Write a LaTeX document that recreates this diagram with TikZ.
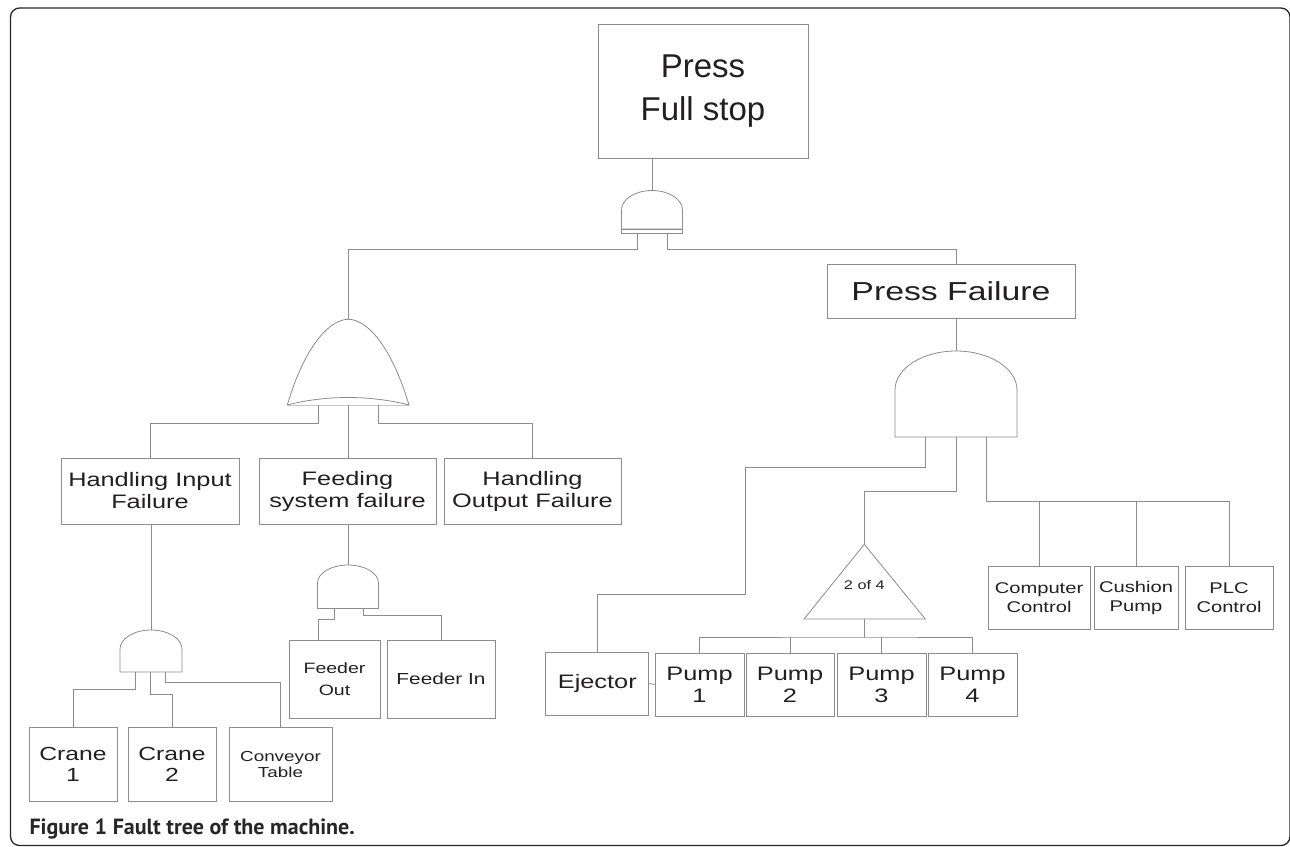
\documentclass[tikz,border=0pt]{standalone}
\usepackage{fontspec}
\setmainfont{Liberation Sans}
\newfontfamily\boxfont[FakeStretch=1.3]{Liberation Sans}
\newfontfamily\capfont{PT Sans}
\usepackage{tikz}

\definecolor{wirecol}{gray}{0.55}
\definecolor{inkcol}{HTML}{231F20}

\tikzset{
  wire/.style={draw=wirecol, line width=0.8pt},
  gate/.style={draw=wirecol, line width=0.8pt, fill=white},
  blk/.style={draw=wirecol, line width=0.8pt, text=inkcol, align=center, inner sep=0pt},
  fs/.style 2 args={font=\boxfont\fontsize{#1}{#2}\selectfont},
}

% cx, top, half width, start of curve, bottom
\newcommand{\andgate}[5]{%
  \draw[gate] ({#1-#3},#5) -- ({#1-#3},#4)
    .. controls ({#1-#3},{#4-0.552*(#4-#2)}) and ({#1-0.552*#3},#2) .. (#1,#2)
    .. controls ({#1+0.552*#3},#2) and ({#1+#3},{#4-0.552*(#4-#2)}) .. ({#1+#3},#4)
    -- ({#1+#3},#5) -- cycle;}

\begin{document}
\begin{tikzpicture}[x=1pt,y=-1pt]
	\useasboundingbox (0,0) rectangle (1290,846);
	\draw[line width=1.3pt, draw=black!85, rounded corners=9pt] (10.5,8) rectangle (1290,845.5);

	% events
	\node[blk, font=\fontsize{33}{43}\selectfont, minimum width=210pt, minimum height=134pt] (press) at (703,91) {Press\\Full stop};
	\node[blk, fs={26}{30}, minimum width=248pt, minimum height=54pt] (pf) at (951,291) {Press Failure};

	\node[blk, fs={19.5}{22}, minimum width=178pt, minimum height=66pt] (hif) at (150,491) {Handling Input\\Failure};
	\node[blk, fs={19.5}{22}, minimum width=177pt, minimum height=66pt] (fsf) at (347.5,491) {Feeding\\system failure};
	\node[blk, fs={19.5}{22}, minimum width=177pt, minimum height=66pt] (hof) at (532.5,491) {Handling\\Output Failure};

	\node[blk, fs={15}{22}, minimum width=91pt, minimum height=78pt] (fo) at (334.5,679) {Feeder\\Out};
	\node[blk, fs={16}{20}, minimum width=108pt, minimum height=78pt] (fi) at (441,679) {Feeder In};

	\node[blk, fs={19}{21}, minimum width=88pt, minimum height=74pt] (c1) at (73,764) {Crane\\1};
	\node[blk, fs={19}{21}, minimum width=88pt, minimum height=74pt] (c2) at (172,764) {Crane\\2};
	\node[blk, fs={14.5}{16}, minimum width=103pt, minimum height=74pt] (ct) at (280.5,764) {Conveyor\\Table};

	\node[blk, fs={19.5}{22}, minimum width=103pt, minimum height=63pt] (ej) at (597.3,683.5) {Ejector};
	\node[blk, fs={19.5}{22}, minimum width=89pt, minimum height=63pt] (p1) at (699.5,684.5) {Pump\\1};
	\node[blk, fs={19.5}{22}, minimum width=88pt, minimum height=63pt] (p2) at (790,684.5) {Pump\\2};
	\node[blk, fs={19.5}{22}, minimum width=89pt, minimum height=63pt] (p3) at (881.5,684.5) {Pump\\3};
	\node[blk, fs={19.5}{22}, minimum width=89pt, minimum height=63pt] (p4) at (972.5,684.5) {Pump\\4};

	\node[blk, fs={15.5}{19}, minimum width=102pt, minimum height=63pt] (cc) at (1039,597.5) {Computer\\Control};
	\node[blk, fs={15.5}{19}, minimum width=84pt, minimum height=63pt] (cp) at (1136,597.5) {Cushion\\Pump};
	\node[blk, fs={15.5}{19}, minimum width=88pt, minimum height=63pt] (plc) at (1229,597.5) {PLC\\Control};

	% gates
	\andgate{652}{190.5}{30.5}{210}{229}
	\draw[gate] (621.5,229) rectangle (682.5,233);
	\coordinate (g0in) at (652,190.5);
	\coordinate (g0l) at (637,233);
	\coordinate (g0r) at (667,233);

	\draw[gate] (287.3,405) .. controls (305,345) and (330,319.3) .. (348.3,319.3)
	  .. controls (366.6,319.3) and (391,345) .. (409,405)
	  .. controls (370,395) and (326,395) .. cycle;
	\draw[draw=wirecol!50, line width=0.8pt] (287.3,405) -- (409,405);
	\coordinate (ortop) at (348.3,319.3);
	\coordinate (orl) at (318.3,405);
	\coordinate (orm) at (348.3,405);
	\coordinate (orr) at (378.3,405);

	\andgate{151}{630}{31}{649}{672}
	\coordinate (g1in) at (151,630);
	\coordinate (g1l) at (135.7,672);
	\coordinate (g1m) at (150.7,672);
	\coordinate (g1r) at (165.7,672);

	\andgate{348}{565}{30.5}{583}{608.5}
	\coordinate (g2in) at (348,565);
	\coordinate (g2l) at (334,608.5);
	\coordinate (g2r) at (363,608.5);
	\coordinate (foin) at (318,640);

	\andgate{956}{351}{61}{390}{437}
	\coordinate (g3in) at (956,351);
	\coordinate (g3l) at (925.7,437);
	\coordinate (g3m) at (956,437);
	\coordinate (g3r) at (986,437);
	\coordinate (pfin) at (956,264);

	\draw[gate] (864.3,544.3) -- (925.3,619) -- (804,619) -- cycle;
	\node[text=inkcol, fs={12.5}{14}] (kofn) at (864.3,585) {2 of 4};
	\coordinate (trtop) at (864.3,544.3);
	\coordinate (trout) at (864.3,619);

	% connections
	\draw[wire] (press.south -| g0in) -- (g0in);
	\draw[wire] (g0l) -- ++(0,16) -| (ortop);
	\draw[wire] (g0r) -- ++(0,16) -| (pfin);

	\draw[wire] (orl) -- ++(0,18) -| (hif.north);
	\draw[wire] (orm) -- (orm |- fsf.north);
	\draw[wire] (orr) -- ++(0,18) -| (hof.north);

	\draw[wire] (hif.south -| g1in) -- (g1in);
	\draw[wire] (g1l) -- ++(0,17) -| (c1.north);
	\draw[wire] (g1m) -- ++(0,22.5) -| (c2.north);
	\draw[wire] (g1r) -- ++(0,10.5) -| (ct.north);

	\draw[wire] (fsf.south -| g2in) -- (g2in);
	\draw[wire] (g2l) -- ++(0,10.5) -| (foin);
	\draw[wire] (g2r) -- ++(0,6.5) -| (fi.north);

	\draw[wire] (pf.south -| g3in) -- (g3in);
	\draw[wire] (g3l) -- ++(0,30) -- ++(-180.7,0) -- ++(0,127) -| (ej.north);
	\draw[wire] (ej.east) -- (p1.west);
	\draw[wire] (g3m) -- ++(0,54) -| (trtop);

	\coordinate (bus3) at (986,501);
	\draw[wire] (g3r) -- (bus3) -| (plc.north);
	\foreach \b in {cc,cp}{
	  \draw[wire] (\b.north) -- (\b.north |- bus3);
	}

	\coordinate (bus4) at (864.3,637);
	\draw[wire] (trout) -- (bus4);
	\draw[wire] (p1.north) |- (bus4) -| (p4.north);
	\foreach \p in {p2,p3}{
	  \draw[wire] (\p.north) -- (\p.north |- bus4);
	}

	% caption
	\node[anchor=base west, text=black!85, font=\capfont\bfseries\fontsize{22}{26}\selectfont] (cap) at (26,834) {Figure 1 Fault tree of the machine.};
\end{tikzpicture}
\end{document}
